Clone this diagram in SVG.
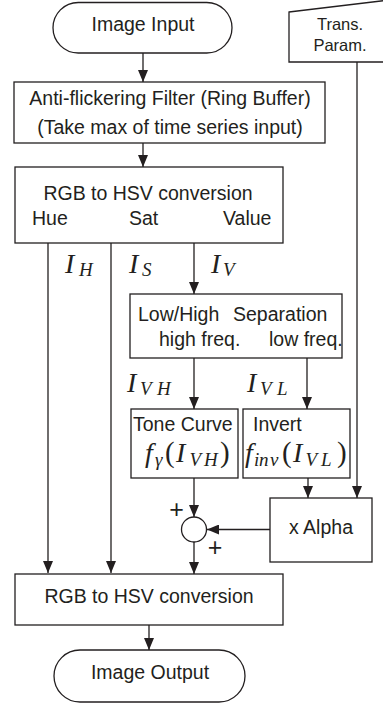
<svg xmlns="http://www.w3.org/2000/svg" width="383" height="704" viewBox="0 0 383 704">
<defs>
<style>
.b{fill:#fff;stroke:#231f20;stroke-width:1.3}
.t{font-family:"Liberation Sans",Arial,sans-serif;font-size:19.5px;fill:#231f20}
.ts{font-family:"Liberation Sans",Arial,sans-serif;font-size:16.5px;fill:#231f20}
.m{font-family:"Liberation Serif","Times New Roman",serif;font-style:italic;font-size:28px;fill:#231f20}
.s{font-size:19px}
.p{font-style:normal;font-size:29px}
.pl{font-family:"Liberation Sans",Arial,sans-serif;font-size:25px;fill:#231f20}
.c line,.c path{stroke:#231f20;stroke-width:1.3;fill:none}
</style>
<marker id="ah" markerUnits="userSpaceOnUse" markerWidth="12" markerHeight="10" refX="12" refY="5" orient="auto">
<path d="M0,0 L12,5 L0,10 z" fill="#231f20"/>
</marker>
</defs>
<rect width="383" height="704" fill="#fff"/>

<g id="connectors" class="c">
<line x1="143" y1="53" x2="143" y2="82" marker-end="url(#ah)"/>
<line x1="143" y1="143" x2="143" y2="167" marker-end="url(#ah)"/>
<line x1="48" y1="243" x2="48" y2="573" marker-end="url(#ah)"/>
<line x1="111" y1="243" x2="111" y2="573" marker-end="url(#ah)"/>
<line x1="194" y1="243" x2="194" y2="294" marker-end="url(#ah)"/>
<line x1="194" y1="358" x2="194" y2="409" marker-end="url(#ah)"/>
<line x1="307" y1="358" x2="307" y2="409" marker-end="url(#ah)"/>
<line x1="194" y1="478" x2="194" y2="517" marker-end="url(#ah)"/>
<line x1="308" y1="478" x2="308" y2="498" marker-end="url(#ah)"/>
<line x1="357" y1="62" x2="357" y2="498" marker-end="url(#ah)"/>
<line x1="270" y1="529.5" x2="207" y2="529.5" marker-end="url(#ah)"/>
<line x1="194" y1="542" x2="194" y2="574" marker-end="url(#ah)"/>
<line x1="149" y1="625" x2="149" y2="650" marker-end="url(#ah)"/>
</g>

<g id="image-input">
<rect class="b" x="53" y="2.5" width="179" height="50.5" rx="25.25"/>
<text class="t" x="143" y="31" text-anchor="middle">Image Input</text>
</g>

<g id="trans-param">
<path class="b" d="M289,12 L385,0.5 L385,62 L289,62 Z"/>
<text class="ts" x="340" y="30" text-anchor="middle">Trans.</text>
<text class="ts" x="340" y="50.5" text-anchor="middle">Param.</text>
</g>

<g id="anti-flicker">
<rect class="b" x="14" y="82" width="311" height="61"/>
<text class="t" x="170" y="105" text-anchor="middle">Anti-flickering Filter (Ring Buffer)</text>
<text class="t" x="170" y="133.5" text-anchor="middle">(Take max of time series input)</text>
</g>

<g id="rgb-hsv-1">
<rect class="b" x="15" y="167" width="268" height="76"/>
<text class="t" x="148" y="200" text-anchor="middle">RGB to HSV conversion</text>
<text class="t" x="32" y="225">Hue</text>
<text class="t" x="129" y="225">Sat</text>
<text class="t" x="223" y="225">Value</text>
</g>

<g id="labels">
<text class="m"><tspan x="65" y="273">I</tspan><tspan class="s" x="79" y="275.5">H</tspan></text>
<text class="m"><tspan x="129" y="273">I</tspan><tspan class="s" x="142" y="275.5">S</tspan></text>
<text class="m"><tspan x="211" y="273">I</tspan><tspan class="s" x="223" y="275.5">V</tspan></text>
<text class="m"><tspan x="127" y="392">I</tspan><tspan class="s" x="140" y="394.5">V</tspan><tspan class="s" x="157" y="394.5">H</tspan></text>
<text class="m"><tspan x="247" y="392">I</tspan><tspan class="s" x="260" y="394.5">V</tspan><tspan class="s" x="277" y="394.5">L</tspan></text>
</g>

<g id="low-high">
<rect class="b" x="130" y="294" width="212" height="64"/>
<text class="t" x="138" y="321">Low/High</text>
<text class="t" x="233" y="321">Separation</text>
<text class="t" x="159" y="346">high freq.</text>
<text class="t" x="269" y="346">low freq.</text>
</g>

<g id="tone-curve">
<rect class="b" x="131" y="409" width="107" height="69"/>
<text class="t" x="133" y="431">Tone Curve</text>
<text class="m"><tspan x="145" y="462">f</tspan><tspan class="s" x="155" y="466">γ</tspan><tspan class="p" x="165" y="462">(</tspan><tspan x="176" y="462">I</tspan><tspan class="s" x="189.5" y="466">V</tspan><tspan class="s" x="204" y="466">H</tspan><tspan class="p" x="220" y="462">)</tspan></text>
</g>

<g id="invert">
<rect class="b" x="243" y="409" width="107" height="69"/>
<text class="t" x="253" y="431">Invert</text>
<text class="m"><tspan x="245" y="462">f</tspan><tspan class="s" x="254" y="466">i</tspan><tspan class="s" x="259" y="466">n</tspan><tspan class="s" x="270" y="466">v</tspan><tspan class="p" x="282" y="462">(</tspan><tspan x="293" y="462">I</tspan><tspan class="s" x="305.5" y="466">V</tspan><tspan class="s" x="321" y="466">L</tspan><tspan class="p" x="337" y="462">)</tspan></text>
</g>

<g id="x-alpha">
<rect class="b" x="270" y="498" width="102" height="64"/>
<text class="t" x="321" y="534" text-anchor="middle">x Alpha</text>
</g>

<g id="sum">
<circle class="b" cx="194" cy="529.5" r="12.5"/>
<text class="pl" x="176.5" y="517.5" text-anchor="middle">+</text>
<text class="pl" x="215" y="555.5" text-anchor="middle">+</text>
</g>

<g id="rgb-hsv-2">
<rect class="b" x="15" y="574" width="268" height="51"/>
<text class="t" x="149" y="603" text-anchor="middle">RGB to HSV conversion</text>
</g>

<g id="image-output">
<rect class="b" x="54" y="650" width="191" height="52" rx="26"/>
<text class="t" x="150" y="679" text-anchor="middle">Image Output</text>
</g>
</svg>
